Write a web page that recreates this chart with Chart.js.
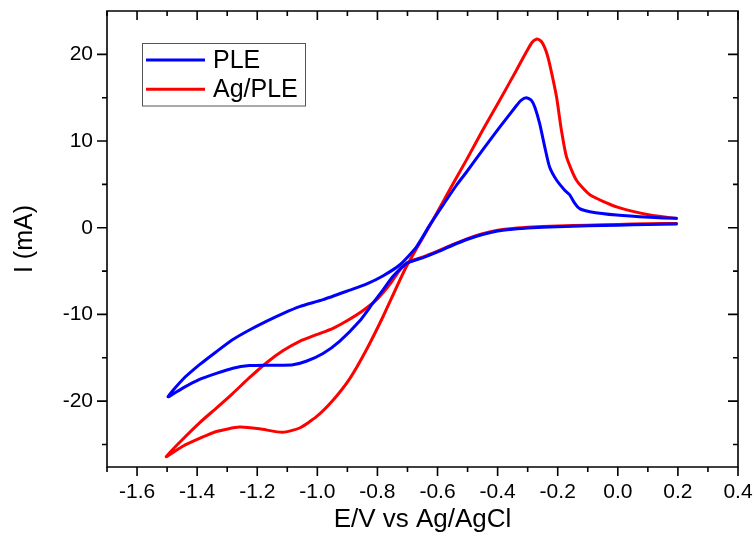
<!DOCTYPE html>
<html>
<head>
<meta charset="utf-8">
<title>CV PLE / Ag-PLE</title>
<script src="https://cdn.jsdelivr.net/npm/chart.js@4.4.0/dist/chart.umd.min.js"></script>
<style>
    html, body { margin: 0; padding: 0; background: #fff; }
    #contenedor { width: 754px; height: 538px; }
</style>
</head>
<body>
<div id="contenedor"><canvas id="cvChart" width="754" height="538"></canvas></div>
<script>
// PLE (azul): rama catodica desde 0.2 V hasta -1.5 V y vuelta
var pleE = [0.195, 0.1, 0.0, -0.1, -0.2, -0.3, -0.35, -0.4, -0.45, -0.5, -0.55, -0.6, -0.65, -0.7,
    -0.748, -0.782, -0.815, -0.86, -0.926, -0.981, -1.037, -1.081, -1.115, -1.17, -1.226, -1.281,
    -1.336, -1.392, -1.448, -1.497,
    -1.448, -1.392, -1.336, -1.281, -1.226, -1.17, -1.115, -1.059, -0.981, -0.892, -0.837, -0.782,
    -0.726, -0.67, -0.626, -0.582, -0.537, -0.504, -0.449, -0.393, -0.337, -0.322, -0.305, -0.288,
    -0.276, -0.26, -0.243, -0.227, -0.204, -0.176, -0.16, -0.143, -0.127, -0.093, -0.004, 0.107, 0.195];
var pleI = [0.42, 0.37, 0.3, 0.22, 0.12, -0.03, -0.18, -0.38, -0.78, -1.33, -2.02, -2.78, -3.47, -4.07,
    -5.6, -7.2, -8.7, -10.8, -13.1, -14.5, -15.4, -15.8, -15.85, -15.85, -15.9, -16.2,
    -16.8, -17.5, -18.5, -19.5,
    -17.5, -15.8, -14.3, -12.9, -11.8, -10.8, -9.9, -9.1, -8.3, -7.2, -6.5, -5.56,
    -4.3, -2.2, 0.3, 2.6, 4.9, 6.4, 9.0, 11.6, 14.1, 14.7, 15.0, 14.7,
    13.9, 12.0, 9.3, 7.0, 5.5, 4.3, 3.8, 2.8, 2.2, 1.85, 1.46, 1.2, 1.08];

// Ag/PLE (rojo)
var agE = [0.195, 0.1, 0.0, -0.1, -0.2, -0.3, -0.35, -0.4, -0.45, -0.5, -0.55, -0.6, -0.65, -0.7,
    -0.726, -0.76, -0.8, -0.85, -0.9, -0.948, -1.0, -1.059, -1.115, -1.17, -1.226, -1.281, -1.336,
    -1.392, -1.448, -1.503,
    -1.448, -1.392, -1.336, -1.259, -1.192, -1.115, -1.059, -1.003, -0.948, -0.892, -0.837, -0.782,
    -0.704, -0.615, -0.56, -0.504, -0.449, -0.393, -0.337, -0.304, -0.285, -0.271, -0.258, -0.249,
    -0.238, -0.227, -0.204, -0.188, -0.171, -0.138, -0.093, -0.004, 0.107, 0.195];
var agI = [0.5, 0.45, 0.38, 0.3, 0.2, 0.05, -0.1, -0.3, -0.7, -1.25, -1.95, -2.7, -3.4, -4.0,
    -4.9, -6.6, -8.2, -9.6, -10.7, -11.6, -12.3, -13.1, -14.2, -15.6, -17.3, -19.1, -20.8,
    -22.5, -24.4, -26.4,
    -25.2, -24.3, -23.5, -23.0, -23.2, -23.6, -23.1, -21.8, -19.9, -17.4, -14.1, -10.3,
    -4.5, 0.9, 4.35, 7.8, 11.3, 14.7, 18.2, 20.3, 21.4, 21.75, 21.6, 21.2,
    20.3, 18.9, 15.1, 11.3, 8.2, 5.5, 3.8, 2.4, 1.46, 1.08];

var xTicks = [-1.6, -1.4, -1.2, -1.0, -0.8, -0.6, -0.4, -0.2, 0.0, 0.2, 0.4];
var xMinor = [-1.7, -1.5, -1.3, -1.1, -0.9, -0.7, -0.5, -0.3, -0.1, 0.1, 0.3];
var yTicks = [-20, -10, 0, 10, 20];
var yMinor = [-25, -15, -5, 5, 15];

var fuente = "'Liberation Sans', Arial, sans-serif";

function puntos(xs, ys) {
    return xs.map(function (x, i) { return { x: x, y: ys[i] }; });
}

// marco y marcas de escala (fuera en izquierda/abajo, dentro en arriba/derecha)
var marcoPlugin = {
    id: 'marco',
    afterDraw: function (chart) {
        var ctx = chart.ctx;
        var a = chart.chartArea;
        var sx = chart.scales.x, sy = chart.scales.y;
        ctx.save();
        ctx.strokeStyle = '#000';
        ctx.lineWidth = 1.6;
        ctx.beginPath();
        ctx.rect(a.left, a.top, a.right - a.left, a.bottom - a.top);
        ctx.stroke();
        function marcaX(v, len) {
            var px = sx.getPixelForValue(v);
            ctx.moveTo(px, a.bottom); ctx.lineTo(px, a.bottom + len);
            ctx.moveTo(px, a.top); ctx.lineTo(px, a.top + len);
        }
        function marcaY(v, len) {
            var py = sy.getPixelForValue(v);
            ctx.moveTo(a.left, py); ctx.lineTo(a.left - len, py);
            ctx.moveTo(a.right, py); ctx.lineTo(a.right - len, py);
        }
        ctx.beginPath();
        xTicks.forEach(function (v) { marcaX(v, 9); });
        xMinor.forEach(function (v) { marcaX(v, 5); });
        yTicks.forEach(function (v) { marcaY(v, 10); });
        yMinor.forEach(function (v) { marcaY(v, 5); });
        ctx.stroke();
        ctx.restore();
    }
};

var leyendaPlugin = {
    id: 'leyenda',
    afterDraw: function (chart) {
        var ctx = chart.ctx;
        ctx.save();
        ctx.strokeStyle = '#555';
        ctx.lineWidth = 1;
        ctx.strokeRect(142.5, 43.5, 163, 62.5);
        ctx.font = '25px ' + fuente;
        ctx.textBaseline = 'middle';
        ctx.fillStyle = '#000';
        chart.data.datasets.forEach(function (ds, i) {
            var y = 60 + i * 29.3;
            ctx.strokeStyle = ds.borderColor;
            ctx.lineWidth = 3;
            ctx.beginPath();
            ctx.moveTo(146, y);
            ctx.lineTo(205, y);
            ctx.stroke();
            ctx.fillText(ds.label, 213, y + 1);
        });
        ctx.restore();
    }
};

var ctx = document.getElementById('cvChart').getContext('2d');
window.miGrafico = new Chart(ctx, {
    type: 'scatter',
    data: {
        datasets: [{
            label: 'PLE',
            data: puntos(pleE, pleI),
            borderColor: '#0000ff',
            backgroundColor: '#0000ff',
            showLine: true
        }, {
            label: 'Ag/PLE',
            data: puntos(agE, agI),
            borderColor: '#ff0000',
            backgroundColor: '#ff0000',
            showLine: true
        }]
    },
    options: {
        responsive: false,
        animation: false,
        layout: { padding: { top: 11, right: 16, left: 0, bottom: 0 } },
        elements: {
            point: { radius: 0, hoverRadius: 0 },
            line: { tension: 0.2, borderWidth: 3, borderJoinStyle: 'round', borderCapStyle: 'round' }
        },
        plugins: {
            legend: { display: false },
            tooltip: { enabled: false }
        },
        scales: {
            x: {
                type: 'linear',
                min: -1.7,
                max: 0.4,
                afterFit: function (s) {
                    s.height = 71;
                    s.paddingLeft = 0;
                    s.paddingRight = 0;
                },
                afterBuildTicks: function (s) { s.ticks = xTicks.map(function (v) { return { value: v }; }); },
                grid: { display: false, drawTicks: false },
                border: { display: false },
                ticks: {
                    padding: 13,
                    color: '#000',
                    autoSkip: false,
                    maxRotation: 0,
                    font: { size: 21, family: fuente },
                    callback: function (v) { return Number(v).toFixed(1); }
                },
                title: {
                    display: true,
                    text: 'E/V vs Ag/AgCl',
                    color: '#000',
                    font: { size: 26, family: fuente },
                    padding: { top: 0, bottom: 3 }
                }
            },
            y: {
                type: 'linear',
                min: -27.6,
                max: 25,
                afterFit: function (s) {
                    s.width = 107;
                    s.paddingTop = 0;
                    s.paddingBottom = 0;
                },
                afterBuildTicks: function (s) { s.ticks = yTicks.map(function (v) { return { value: v }; }); },
                grid: { display: false, drawTicks: false },
                border: { display: false },
                ticks: {
                    padding: 14,
                    color: '#000',
                    font: { size: 21, family: fuente },
                    callback: function (v) { return String(v); }
                },
                title: {
                    display: true,
                    text: 'I (mA)',
                    color: '#000',
                    font: { size: 25, family: fuente },
                    padding: { top: 10, bottom: 0 }
                }
            }
        }
    },
    plugins: [marcoPlugin, leyendaPlugin]
});
</script>
</body>
</html>
